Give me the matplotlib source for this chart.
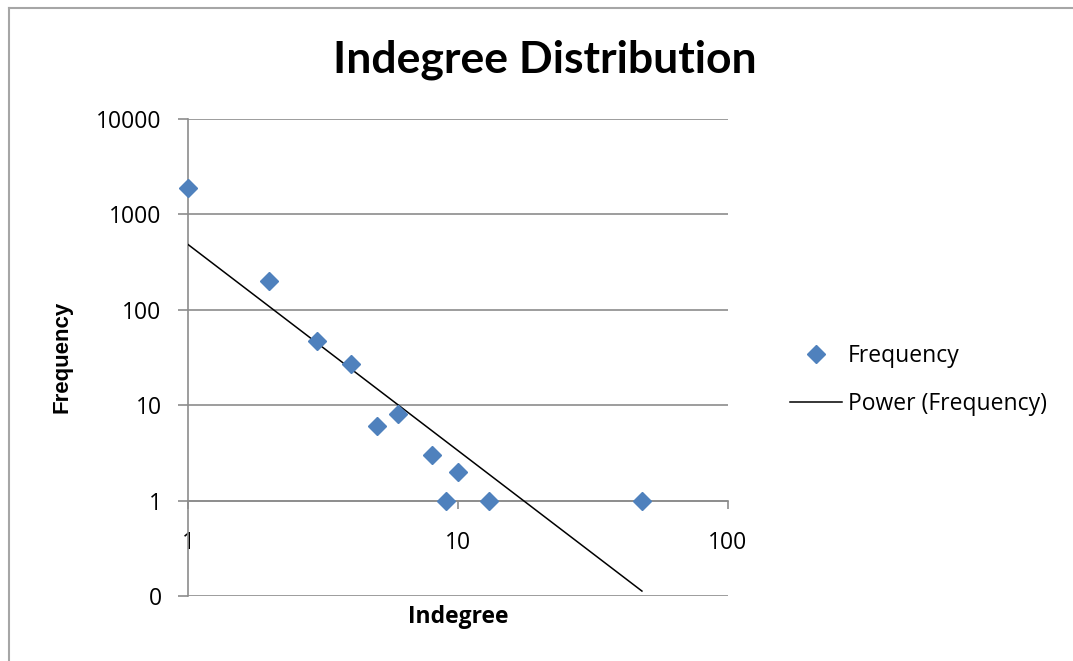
import numpy as np
import matplotlib
matplotlib.use('Agg')
import matplotlib.pyplot as plt
from matplotlib.lines import Line2D
from matplotlib.ticker import FixedLocator, FixedFormatter, NullLocator

# Data
indegree = [1, 2, 3, 4, 5, 6, 8, 9, 10, 13, 48]
frequency = [1900, 200, 47, 27, 6, 8, 3, 1, 2, 1, 1]

y_ticks = [0.1, 1, 10, 100, 1000, 10000]
y_tick_labels = ['0', '1', '10', '100', '1000', '10000']
x_ticks = [1, 10, 100]
x_tick_labels = ['1', '10', '100']

BLUE = '#4F81BD'
GRID = '#8C8C8C'
FONT = 'Open Sans'

plt.rcParams['font.family'] = [FONT, 'DejaVu Sans']

fig = plt.figure(figsize=(10.73, 6.61), dpi=100)
ax = fig.add_axes([188 / 1073, 1 - 596 / 661, 540 / 1073, 477 / 661])

ax.set_xscale('log')
ax.set_yscale('log')
ax.set_xlim(1, 100)
ax.set_ylim(0.1, 10000)

# power trendline (least squares in log-log space, like Excel)
slope, icpt = np.polyfit(np.log10(indegree), np.log10(frequency), 1)
xf = np.array([min(indegree), max(indegree)])
yf = 10 ** icpt * xf ** slope
ax.plot(xf, yf, color='black', lw=1.1, zorder=3, label='Power (Frequency)')

ax.plot(indegree, frequency, linestyle='none', marker='D', markersize=9,
        color=BLUE, markeredgecolor=BLUE, zorder=4, clip_on=False,
        label='Frequency')

# axes styling
for s in ['top', 'right']:
    ax.spines[s].set_visible(False)
ax.spines['left'].set_color(GRID)
ax.spines['left'].set_linewidth(1.2)
ax.spines['bottom'].set_position(('data', 1))
ax.spines['bottom'].set_color(GRID)
ax.spines['bottom'].set_linewidth(1.2)

ax.yaxis.set_major_locator(FixedLocator(y_ticks))
ax.yaxis.set_major_formatter(FixedFormatter(y_tick_labels))
ax.yaxis.set_minor_locator(NullLocator())
ax.xaxis.set_major_locator(FixedLocator(x_ticks))
ax.xaxis.set_major_formatter(FixedFormatter(x_tick_labels))
ax.xaxis.set_minor_locator(NullLocator())

ax.tick_params(axis='y', direction='out', length=7, width=1.2, color=GRID,
               pad=12, labelsize=16.5)
ax.tick_params(axis='x', direction='out', length=6, width=1.2, color=GRID,
               pad=16, labelsize=16.5)

ax.grid(axis='y', color=GRID, lw=1.2)
ax.set_axisbelow(True)

fig.text(545 / 1073, 1 - 72 / 661, 'Indegree Distribution', ha='center',
         va='baseline', fontsize=32, fontweight='bold', family='Lato')
ax.text(0.5, -0.045, 'Indegree', transform=ax.transAxes, ha='center',
        va='center', fontsize=16.5, fontweight='bold')
fig.text(62 / 1073, 1 - 357 / 661, 'Frequency', rotation=90, ha='center',
         va='center', fontsize=16, fontweight='bold',
         family='Liberation Sans')

h, l = ax.get_legend_handles_labels()
ax.legend(h[::-1], l[::-1], loc='center left',
          bbox_to_anchor=(790 / 1073, 1 - 380 / 661),
          bbox_transform=fig.transFigure, frameon=False, fontsize=16.5,
          handlelength=2.27, handletextpad=0.26, labelspacing=1.05,
          borderpad=0, borderaxespad=0)

# chart area border (Excel)
fig.add_artist(Line2D([9 / 1073, 9 / 1073], [0, 1 - 8 / 661],
                      transform=fig.transFigure, color='#A6A6A6', lw=1.5))
fig.add_artist(Line2D([9 / 1073, 1], [1 - 8 / 661, 1 - 8 / 661],
                      transform=fig.transFigure, color='#A6A6A6', lw=1.5))

fig.savefig('out.png', dpi=100, facecolor='white')
